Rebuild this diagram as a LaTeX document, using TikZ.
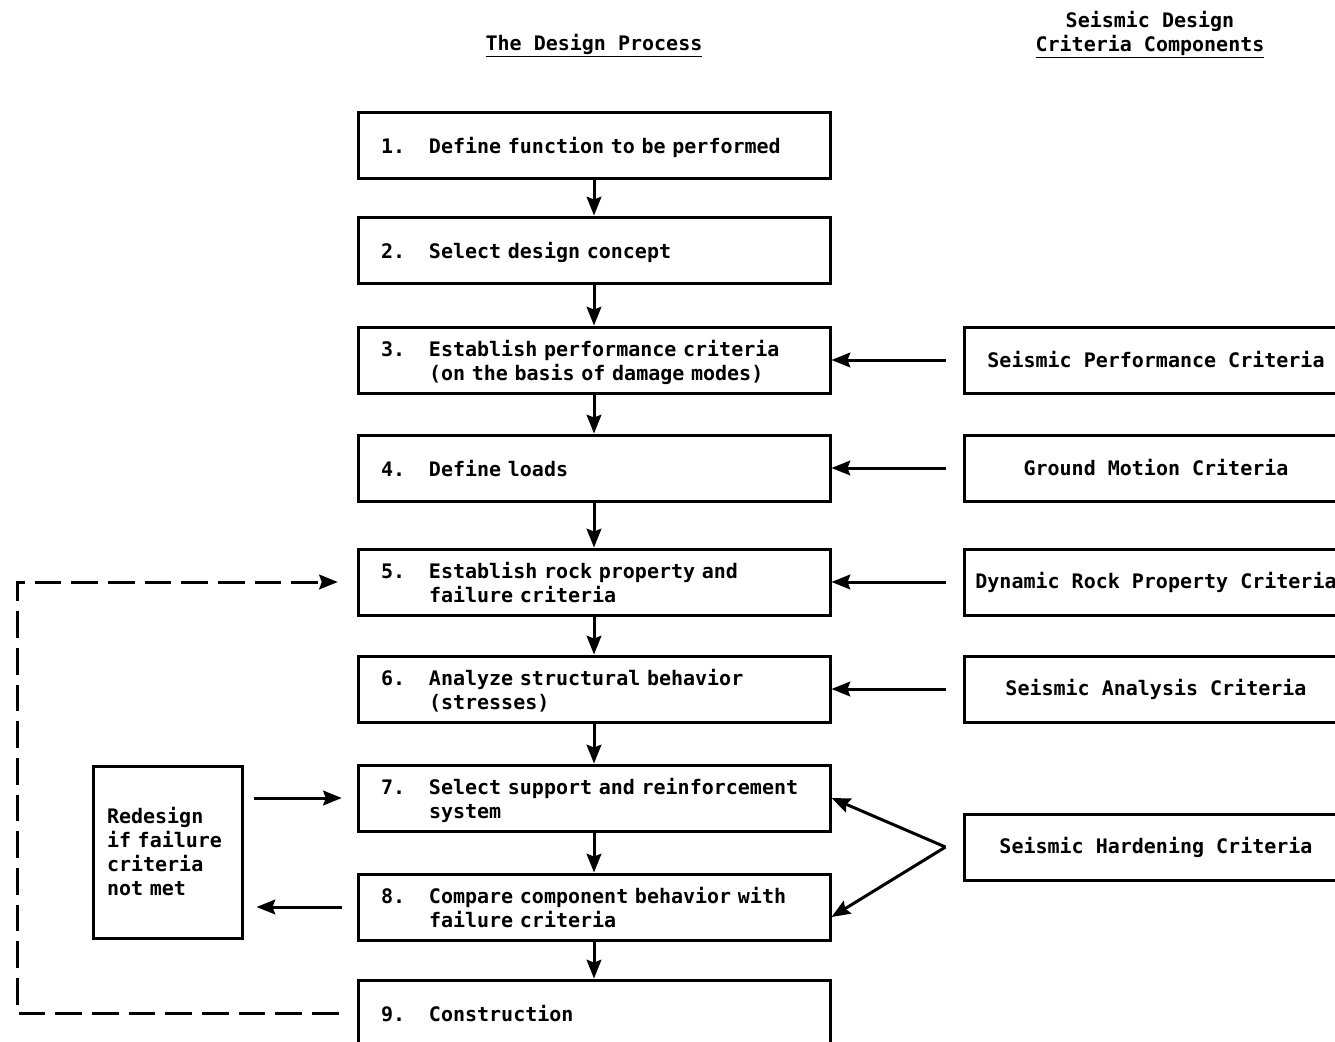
\documentclass[tikz,border=0pt]{standalone}
\usepackage{fontspec}
\setmonofont{DejaVu Sans Mono}
\usetikzlibrary{arrows.meta}

% number column plus hanging text lines
\newcommand{\procline}[2]{\raisebox{-3pt}[\height][\depth]{\makebox[\linewidth][l]{\makebox[36pt][l]{#1}\begin{tabular}[t]{@{}l@{}}#2\end{tabular}}}}

\begin{document}
\begin{tikzpicture}[x=0.75pt,y=0.75pt,yscale=-1,xscale=1,
  font=\ttfamily\bfseries\fontsize{15}{18}\selectfont,
  box/.style={draw,line width=2.25pt,minimum height=49.5pt,inner ysep=0pt},
  procbox/.style={box,minimum width=354pt,text width=319.5pt,inner xsep=17.25pt,align=left},
  critbox/.style={box,minimum width=288pt,inner xsep=0pt,align=center},
  flow/.style={line width=2.25pt,-{Stealth[length=14pt,width=11pt,inset=2pt]}},
  loopback/.style={flow,dash pattern=on 20pt off 7.5pt}]
\useasboundingbox (0,0) rectangle (1335,1042);

% Headings
\node (hdproc) at (594,46) {\underline{The Design Process}};
\node[align=center] (hdcrit) at (1150,35) {Seismic Design\\\underline{Criteria Components}};

% The design process
\node[procbox] (p1) at (594,145) {\procline{1.}{Define function to be performed}};
\node[procbox] (p2) at (594,250) {\procline{2.}{Select design concept}};
\node[procbox] (p3) at (594,360) {\procline{3.}{Establish performance criteria\\(on the basis of damage modes)}};
\node[procbox] (p4) at (594,468) {\procline{4.}{Define loads}};
\node[procbox] (p5) at (594,582) {\procline{5.}{Establish rock property and\\failure criteria}};
\node[procbox] (p6) at (594,689) {\procline{6.}{Analyze structural behavior\\(stresses)}};
\node[procbox] (p7) at (594,798) {\procline{7.}{Select support and reinforcement\\system}};
\node[procbox] (p8) at (594,907) {\procline{8.}{Compare component behavior with\\failure criteria}};
\node[procbox] (p9) at (594,1013) {\procline{9.}{Construction}};

% Criteria components
\node[critbox] (c3) at (1156,360) {Seismic Performance Criteria};
\node[critbox] (c4) at (1156,468) {Ground Motion Criteria};
\node[critbox] (c5) at (1156,582) {Dynamic Rock Property Criteria};
\node[critbox] (c6) at (1156,689) {Seismic Analysis Criteria};
\node[critbox] (c7) at (1156,847) {Seismic Hardening Criteria};

% Redesign loop
\node[box,minimum width=111.75pt,minimum height=129pt,text width=90.75pt,inner xsep=10.5pt,align=left] (redo) at (167.5,852) {\raisebox{-2.25pt}[\height][\depth]{\begin{tabular}[t]{@{}l@{}}Redesign\\if failure\\criteria\\not met\end{tabular}}};

% Down arrows
\foreach \a/\b in {p1/p2,p2/p3,p3/p4,p4/p5,p5/p6,p6/p7,p7/p8,p8/p9}
  \draw[flow] (\a) -- (\b);

% Criteria into the process
\foreach \c/\p in {c3/p3,c4/p4,c5/p5,c6/p6}
  \draw[flow,shorten <=12.75pt] (\c) -- (\p);
\coordinate (hardfork) at ([xshift=-12.75pt]c7.west);
\draw[flow] (hardfork) -- (p7.east);
\draw[flow] (hardfork) -- ([yshift=7.5pt]p8.east);

\draw[flow,shorten <=7.5pt,shorten >=11pt] (redo.east |- p7.west) -- (p7.west);
\draw[flow,shorten <=11pt,shorten >=9.75pt] (p8.west) -- (redo.east |- p8.west);

% Dashed feedback
\coordinate (loopside) at (17,800);
\draw[loopback,shorten <=13.5pt,shorten >=14pt] (p9.west) -| (loopside) |- (p5.west);
\end{tikzpicture}
\end{document}
